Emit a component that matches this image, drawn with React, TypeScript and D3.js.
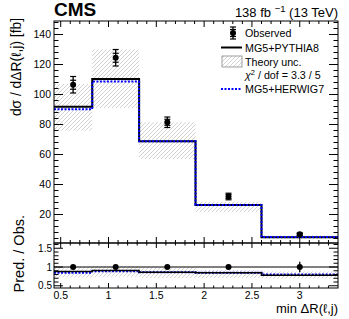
import * as d3 from "d3";
import { useEffect, useRef } from "react";

// bin edges of min ΔR(ℓ,j)
const edges = [0.43, 0.83, 1.32, 1.91, 2.6, 3.4];
const observed = [106.5, 124.5, 81.5, 32, 6.8];
const statErr = [3, 3, 2, 1.4, 0.6];
const totErr = [5.5, 5.5, 3.5, 2.2, 0.9];
const pythia = [91.8, 110.4, 68.9, 26.4, 4.9];
const herwig = [90.2, 108.6, 68.8, 26.4, 5.0];
const theoryLo = [75.8, 91, 57, 21.5, 3.6];
const theoryHi = [107, 130, 81.5, 28.5, 6.0];

// ratio panel
const ratioPythia = [0.88, 0.91, 0.86, 0.85, 0.78];
const ratioHerwig = [0.85, 0.89, 0.86, 0.85, 0.8];
const ratioLo = [0.72, 0.74, 0.71, 0.71, 0.69];
const ratioHi = [1.0, 1.03, 0.99, 0.92, 0.88];
const ratioErr = [0.05, 0.045, 0.045, 0.07, 0.14];

const yTicks = [20, 40, 60, 80, 100, 120, 140];
const rTicks = [0.5, 1, 1.5];
const xTicks = [0.5, 1, 1.5, 2, 2.5, 3];

const W = 349;
const H = 319;
const FONT = "'Liberation Sans', Arial, sans-serif";

export default function App() {
  const ref = useRef<SVGSVGElement | null>(null);

  useEffect(() => {
    const svg = d3.select(ref.current);
    svg.selectAll("*").remove();

    const L = 54, R = 338, T = 21, M = 243, B = 288;
    const x = d3.scaleLinear().domain([0.43, 3.4]).range([L, R]);
    const y = d3.scaleLinear().domain([1, 149]).range([M, T]);
    const yr = d3.scaleLinear().domain([0.44, 1.64]).range([B, M]);

    const defs = svg.append("defs");
    const pat = defs
      .append("pattern")
      .attr("id", "hatch")
      .attr("patternUnits", "userSpaceOnUse")
      .attr("width", 4)
      .attr("height", 4);
    pat
      .append("path")
      .attr("d", "M-1,1 l2,-2 M0,4 l4,-4 M3,5 l2,-2")
      .attr("stroke", "#b4b4b4")
      .attr("stroke-width", 0.6);

    const bins = d3.range(observed.length);
    const centers = bins.map((i) => (edges[i] + edges[i + 1]) / 2);

    const step = (vals: number[], ys: d3.ScaleLinear<number, number>) =>
      d3
        .line<number>()
        .x((i) => x(edges[i]))
        .y((i) => ys(vals[Math.min(i, vals.length - 1)]))
        .curve(d3.curveStepAfter)(d3.range(edges.length));

    // ---------- main panel ----------
    const g = svg.append("g");
    g.selectAll("rect.band")
      .data(bins)
      .join("rect")
      .attr("x", (i) => x(edges[i]))
      .attr("width", (i) => x(edges[i + 1]) - x(edges[i]))
      .attr("y", (i) => y(theoryHi[i]))
      .attr("height", (i) => y(theoryLo[i]) - y(theoryHi[i]))
      .attr("fill", "url(#hatch)");

    g.append("path")
      .attr("d", step(pythia, y))
      .attr("fill", "none")
      .attr("stroke", "#000")
      .attr("stroke-width", 2);
    g.append("path")
      .attr("d", step(herwig, y))
      .attr("fill", "none")
      .attr("stroke", "#0000ff")
      .attr("stroke-width", 2)
      .attr("stroke-dasharray", "2,1.5");

    const obs = g.selectAll("g.obs").data(bins).join("g");
    obs
      .append("line")
      .attr("x1", (i) => x(centers[i]))
      .attr("x2", (i) => x(centers[i]))
      .attr("y1", (i) => y(observed[i] - totErr[i]))
      .attr("y2", (i) => y(observed[i] + totErr[i]))
      .attr("stroke", "#000")
      .attr("stroke-width", 1.3);
    [statErr, totErr].forEach((err) => {
      [1, -1].forEach((s) => {
        obs
          .append("line")
          .attr("x1", (i) => x(centers[i]) - 3)
          .attr("x2", (i) => x(centers[i]) + 3)
          .attr("y1", (i) => y(observed[i] + s * err[i]))
          .attr("y2", (i) => y(observed[i] + s * err[i]))
          .attr("stroke", "#000")
          .attr("stroke-width", 1.2);
      });
    });
    obs
      .append("circle")
      .attr("cx", (i) => x(centers[i]))
      .attr("cy", (i) => y(observed[i]))
      .attr("r", 3)
      .attr("fill", "#000");

    // ---------- ratio panel ----------
    const gr = svg.append("g");
    gr.selectAll("rect")
      .data(bins)
      .join("rect")
      .attr("x", (i) => x(edges[i]))
      .attr("width", (i) => x(edges[i + 1]) - x(edges[i]))
      .attr("y", (i) => yr(ratioHi[i]))
      .attr("height", (i) => yr(ratioLo[i]) - yr(ratioHi[i]))
      .attr("fill", "url(#hatch)");
    gr.append("line")
      .attr("x1", L)
      .attr("x2", R)
      .attr("y1", yr(1))
      .attr("y2", yr(1))
      .attr("stroke", "#000")
      .attr("stroke-width", 1);
    gr.append("path")
      .attr("d", step(ratioHerwig, yr))
      .attr("fill", "none")
      .attr("stroke", "#0000ff")
      .attr("stroke-width", 2)
      .attr("stroke-dasharray", "2,1.5");
    gr.append("path")
      .attr("d", step(ratioPythia, yr))
      .attr("fill", "none")
      .attr("stroke", "#000")
      .attr("stroke-width", 1.5);
    gr.selectAll("line.err")
      .data(bins)
      .join("line")
      .attr("x1", (i) => x(centers[i]))
      .attr("x2", (i) => x(centers[i]))
      .attr("y1", (i) => yr(1 - ratioErr[i]))
      .attr("y2", (i) => yr(1 + ratioErr[i]))
      .attr("stroke", "#000")
      .attr("stroke-width", 1.3);
    gr.selectAll("circle")
      .data(bins)
      .join("circle")
      .attr("cx", (i) => x(centers[i]))
      .attr("cy", yr(1))
      .attr("r", 3)
      .attr("fill", "#000");

    // ---------- frames and ticks ----------
    const ax = svg.append("g").attr("stroke", "#000").attr("stroke-width", 1);
    const frame = (t: number, b: number) =>
      ax
        .append("rect")
        .attr("x", L)
        .attr("y", t)
        .attr("width", R - L)
        .attr("height", b - t)
        .attr("fill", "none");
    frame(T, M);
    frame(M, B);

    const tick = (x1: number, y1: number, x2: number, y2: number) =>
      ax.append("line").attr("x1", x1).attr("y1", y1).attr("x2", x2).attr("y2", y2);

    // x ticks, both panels, top and bottom
    const xMinor = d3.range(5, 34).map((v) => v / 10);
    xMinor.forEach((v) => {
      const px = x(v);
      const major = Math.abs(v * 2 - Math.round(v * 2)) < 1e-6;
      const lm = major ? 6 : 3;
      const lr = major ? 5 : 2.5;
      tick(px, T, px, T + lm);
      tick(px, M, px, M - lm);
      tick(px, M, px, M + lr);
      tick(px, B, px, B - lr);
    });

    // y ticks main
    d3.range(4, 149, 4).forEach((v) => {
      const py = y(v);
      const lm = v % 20 === 0 ? 9 : 4.5;
      tick(L, py, L + lm, py);
      tick(R, py, R - lm, py);
    });
    // y ticks ratio
    d3.range(5, 17).map((v) => v / 10).forEach((v) => {
      const py = yr(v);
      const major = Math.abs(v * 2 - Math.round(v * 2)) < 1e-6;
      const lm = major ? 9 : 4.5;
      tick(L, py, L + lm, py);
      tick(R, py, R - lm, py);
    });

    // ---------- labels ----------
    const txt = svg.append("g").attr("font-family", FONT).attr("fill", "#000");
    txt.selectAll("text.yt")
      .data(yTicks)
      .join("text")
      .attr("x", L - 3)
      .attr("y", (d) => y(d) + 3.8)
      .attr("text-anchor", "end")
      .attr("font-size", 10.5)
      .text((d) => d);
    txt.selectAll("text.rt")
      .data(rTicks)
      .enter()
      .append("text")
      .attr("x", L - 2)
      .attr("y", (d) => yr(d) + 3.6)
      .attr("text-anchor", "end")
      .attr("font-size", 10)
      .text((d) => d);
    txt.selectAll("text.xt")
      .data(xTicks)
      .enter()
      .append("text")
      .attr("x", (d) => x(d))
      .attr("y", B + 11)
      .attr("text-anchor", "middle")
      .attr("font-size", 10.5)
      .text((d) => d);

    txt.append("text")
      .attr("x", L)
      .attr("y", 16)
      .attr("font-size", 19)
      .attr("font-weight", "bold")
      .text("CMS");
    const lumi = txt
      .append("text")
      .attr("x", R)
      .attr("y", 17)
      .attr("text-anchor", "end")
      .attr("font-size", 13);
    lumi.append("tspan").text("138 fb ");
    lumi.append("tspan").attr("dy", -5).attr("font-size", 9.5).text("\u22121");
    lumi.append("tspan").attr("dy", 5).text("\u00a0(13 TeV)");

    txt.append("text")
      .attr("transform", `translate(21,18) rotate(-90)`)
      .attr("text-anchor", "end")
      .attr("font-size", 13.8)
      .text("d\u03c3 / d\u0394R(\u2113,j) [fb]");
    txt.append("text")
      .attr("transform", `translate(24,215) rotate(-90)`)
      .attr("text-anchor", "end")
      .attr("font-size", 14.5)
      .text("Pred. / Obs.");
    txt.append("text")
      .attr("x", R)
      .attr("y", 313)
      .attr("text-anchor", "end")
      .attr("font-size", 13)
      .text("min \u0394R(\u2113,j)");

    // ---------- legend ----------
    const lg = svg.append("g").attr("font-family", FONT).attr("font-size", 10.7);
    const lx = 245;
    const rows = [33, 47.5, 61.5, 75, 89];
    // observed marker
    lg.append("line")
      .attr("x1", 233).attr("x2", 233)
      .attr("y1", rows[0] - 6).attr("y2", rows[0] + 6)
      .attr("stroke", "#000").attr("stroke-width", 1.3);
    [-6, -3.5, 3.5, 6].forEach((o) =>
      lg.append("line")
        .attr("x1", 230).attr("x2", 236)
        .attr("y1", rows[0] + o).attr("y2", rows[0] + o)
        .attr("stroke", "#000").attr("stroke-width", 1.2)
    );
    lg.append("circle").attr("cx", 233).attr("cy", rows[0]).attr("r", 3).attr("fill", "#000");
    lg.append("line")
      .attr("x1", 221).attr("x2", 242)
      .attr("y1", rows[1]).attr("y2", rows[1])
      .attr("stroke", "#000").attr("stroke-width", 2);
    lg.append("rect")
      .attr("x", 222).attr("y", rows[2] - 5.5)
      .attr("width", 20).attr("height", 11)
      .attr("fill", "url(#hatch)")
      .attr("stroke", "#888").attr("stroke-width", 0.8);
    lg.append("line")
      .attr("x1", 221).attr("x2", 242)
      .attr("y1", rows[4]).attr("y2", rows[4])
      .attr("stroke", "#0000ff").attr("stroke-width", 2)
      .attr("stroke-dasharray", "2,1.5");

    const labels = ["Observed", "MG5+PYTHIA8", "Theory unc.", "", "MG5+HERWIG7"];
    labels.forEach((t, i) => {
      if (!t) return;
      lg.append("text").attr("x", lx).attr("y", rows[i] + 4).text(t);
    });
    const chi = lg.append("text").attr("x", lx).attr("y", rows[3] + 4);
    chi.append("tspan").attr("font-style", "italic").text("\u03c7");
    chi.append("tspan").attr("dy", -4).attr("font-size", 7.5).text("2");
    chi.append("tspan").attr("dy", 4).text(" / dof = 3.3 / 5");
  }, []);

  return (
    <svg
      ref={ref}
      width={W}
      height={H}
      style={{ position: "absolute", left: 0, top: 0, background: "#fff" }}
    />
  );
}
